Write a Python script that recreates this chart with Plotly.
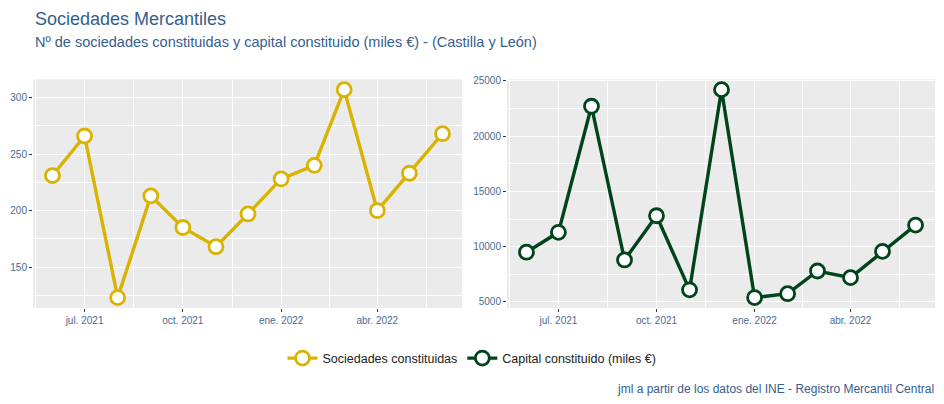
import pandas as pd
import plotly.graph_objects as go

fechas = pd.date_range("2021-06-01", "2022-06-01", freq="MS")
sociedades = [231, 266, 123, 213, 185, 168, 197, 228, 240, 307, 200, 233, 268]
capital = [9500, 11300, 22700, 8800, 12800, 6100, 24200, 5400, 5750, 7800, 7200, 9580, 11950]
tick_fechas = pd.to_datetime(["2021-07-01", "2021-10-01", "2022-01-01", "2022-04-01"])
tick_textos = ["jul. 2021", "oct. 2021", "ene. 2022", "abr. 2022"]
serie1 = "Sociedades constituidas"
serie2 = "Capital constituido (miles €)"
color1 = "#D9B300"
color2 = "#00441B"

# ggplot-like expansion and minor breaks
span = fechas.max() - fechas.min()
xr = [fechas.min() - span * 0.05, fechas.max() + span * 0.05]
step = tick_fechas[1] - tick_fechas[0]
ext = [tick_fechas[0] - step] + list(tick_fechas) + [tick_fechas[-1] + step]
minor_x = [ext[i] + (ext[i + 1] - ext[i]) / 2 for i in range(len(ext) - 1)]

def yrange(v):
    lo, hi = min(v), max(v)
    d = (hi - lo) * 0.05
    return [lo - d, hi + d]

fig = go.Figure()
fig.add_trace(go.Scatter(x=fechas, y=sociedades, name=serie1, mode="lines+markers",
                         line=dict(color=color1, width=3.4),
                         marker=dict(size=14, color="white", line=dict(color=color1, width=2.8)),
                         xaxis="x", yaxis="y"))
fig.add_trace(go.Scatter(x=fechas, y=capital, name=serie2, mode="lines+markers",
                         line=dict(color=color2, width=3.4),
                         marker=dict(size=14, color="white", line=dict(color=color2, width=2.8)),
                         xaxis="x2", yaxis="y2"))

W, H = 944, 404
tickfont = dict(family="Liberation Sans, Arial", size=10, color="#4a6b96")
common_x = dict(type="date", range=xr, tickmode="array", tickvals=tick_fechas, ticktext=tick_textos,
                ticks="outside", ticklen=3, tickcolor="#333333", tickwidth=1,
                showgrid=True, gridcolor="white", gridwidth=1.1, zeroline=False, showline=False,
                tickfont=tickfont,
                minor=dict(tickmode="array", tickvals=minor_x, showgrid=True, gridcolor="white",
                           gridwidth=0.5, ticks=""))
ydom = [1 - 307 / H, 1 - 76 / H]

def yaxis(rng, major, minor, anchor):
    return dict(range=rng, tickmode="array", tickvals=major, anchor=anchor, domain=ydom,
                tickformat="d",
                ticks="outside", ticklen=3, tickcolor="#333333", tickwidth=1,
                showgrid=True, gridcolor="white", gridwidth=1.1, zeroline=False, showline=False,
                tickfont=tickfont,
                minor=dict(tickmode="array", tickvals=minor, showgrid=True, gridcolor="white",
                           gridwidth=0.5, ticks=""))

fig.update_layout(
    width=W, height=H,
    margin=dict(l=0, r=0, t=0, b=0),
    paper_bgcolor="white", plot_bgcolor="#EBEBEB",
    xaxis=dict(domain=[33 / W, 462 / W], anchor="y", **common_x),
    xaxis2=dict(domain=[507 / W, 935 / W], anchor="y2", **common_x),
    yaxis=yaxis(yrange(sociedades), [150, 200, 250, 300], [125, 175, 225, 275], "x"),
    yaxis2=yaxis(yrange(capital), [5000, 10000, 15000, 20000, 25000],
                 [7500, 12500, 17500, 22500], "x2"),
    showlegend=True,
    legend=dict(orientation="h", x=0.5, xanchor="center", y=1 - 358 / H, yanchor="middle",
                font=dict(family="Liberation Sans, Arial", size=12.5, color="#222222"),
                itemwidth=30, tracegroupgap=0),
    annotations=[
        dict(text="Sociedades Mercantiles", x=33 / W, y=1 - 15 / H, xref="paper", yref="paper",
             xanchor="left", yanchor="middle", showarrow=False,
             font=dict(family="Liberation Sans, Arial", size=18, color="#35608e")),
        dict(text="Nº de sociedades constituidas y capital constituido (miles €) - (Castilla y León)",
             x=33 / W, y=1 - 38 / H, xref="paper", yref="paper",
             xanchor="left", yanchor="middle", showarrow=False,
             font=dict(family="Liberation Sans, Arial", size=14.5, color="#35608e")),
        dict(text="jml a partir de los datos del INE - Registro Mercantil Central",
             x=936 / W, y=1 - 389 / H, xref="paper", yref="paper",
             xanchor="right", yanchor="middle", showarrow=False,
             font=dict(family="Liberation Sans, Arial", size=12, color="#35608e")),
    ],
)

fig.write_html("out.html", config={"displayModeBar": False},
               post_script="document.body.style.margin='0';document.body.style.padding='0';"
                           "document.body.style.overflow='hidden';")
